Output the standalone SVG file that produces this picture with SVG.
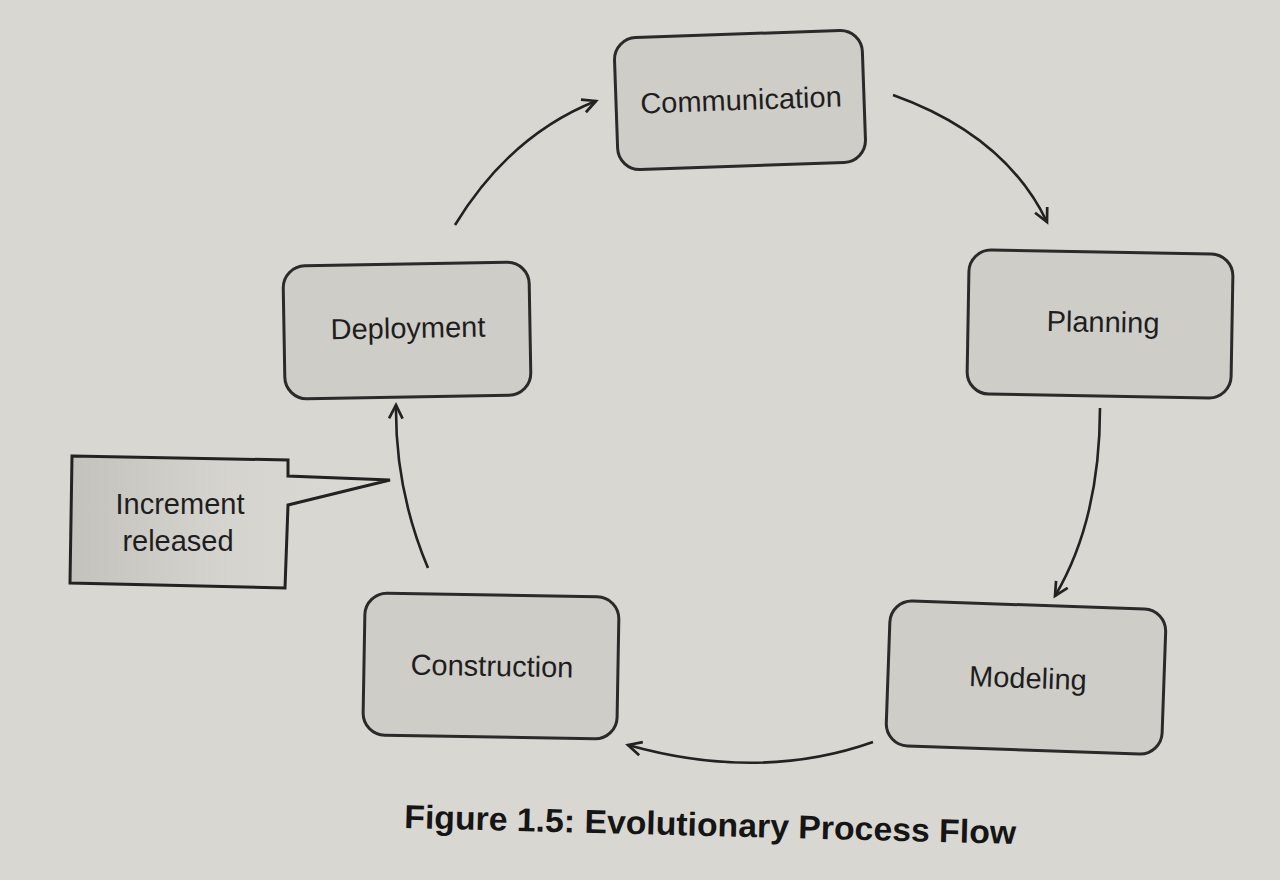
<svg xmlns="http://www.w3.org/2000/svg" width="1280" height="880" viewBox="0 0 1280 880">
<defs>
<style>
.node rect{fill:#cfcdc8;stroke:#2a2a2a;stroke-width:3}
.lbl{font-family:"Liberation Sans",Arial,sans-serif;font-size:29px;fill:#1e1e1e;text-anchor:middle}
.conn path{fill:none;stroke:#222;stroke-width:2.6}
.cap{font-family:"Liberation Sans",Arial,sans-serif;font-size:33px;font-weight:bold;fill:#151515}
</style>
<marker id="ah" viewBox="0 0 12 12" refX="10" refY="6" markerWidth="18" markerHeight="18" orient="auto" markerUnits="userSpaceOnUse">
<path d="M1,1.5 L10,6 L1,10.5" fill="none" stroke="#222" stroke-width="1.8"/>
</marker>
<linearGradient id="cg" x1="0" y1="0" x2="1" y2="0">
<stop offset="0" stop-color="#c4c2bd"/>
<stop offset="0.5" stop-color="#d6d4cf"/>
<stop offset="1" stop-color="#dcdad5"/>
</linearGradient>
</defs>
<rect width="1280" height="880" fill="#d9d7d1"/>

<g id="communication" class="node" transform="rotate(-2 740 100)">
<rect x="616" y="34" width="248" height="132" rx="22"/>
<text class="lbl" x="741" y="110">Communication</text>
</g>
<g id="planning" class="node" transform="rotate(1 1100 325)">
<rect x="968" y="252" width="264" height="144" rx="22"/>
<text class="lbl" x="1103" y="332">Planning</text>
</g>
<g id="deployment" class="node" transform="rotate(-1 407 330)">
<rect x="284" y="264" width="246" height="133" rx="22"/>
<text class="lbl" x="408" y="338">Deployment</text>
</g>
<g id="construction" class="node" transform="rotate(1 491 665)">
<rect x="364" y="595" width="254" height="142" rx="22"/>
<text class="lbl" x="492" y="676">Construction</text>
</g>
<g id="modeling" class="node" transform="rotate(2 1026 677)">
<rect x="888" y="605" width="276" height="145" rx="22"/>
<text class="lbl" x="1028" y="688">Modeling</text>
</g>

<g id="callout">
<path d="M72,456 L288,460 L288,476 L390,480 L288,505 L285,588 L70,583 Z" fill="url(#cg)" stroke="#222" stroke-width="3" stroke-linejoin="miter"/>
<text class="lbl" x="180" y="514" font-size="27">Increment</text>
<text class="lbl" x="178" y="551" font-size="27">released</text>
</g>

<g id="connectors" class="conn">
<path d="M455,225 Q510,135 596,101" marker-end="url(#ah)"/>
<path d="M893,95 Q1005,135 1047,222" marker-end="url(#ah)"/>
<path d="M1100,408 Q1100,520 1055,596" marker-end="url(#ah)"/>
<path d="M873,742 Q760,782 628,745" marker-end="url(#ah)"/>
<path d="M428,568 Q395,490 396,405" marker-end="url(#ah)"/>
</g>

<text class="cap" x="404" y="828" transform="rotate(1.5 404 828)" textLength="612" lengthAdjust="spacingAndGlyphs">Figure 1.5: Evolutionary Process Flow</text>
</svg>
